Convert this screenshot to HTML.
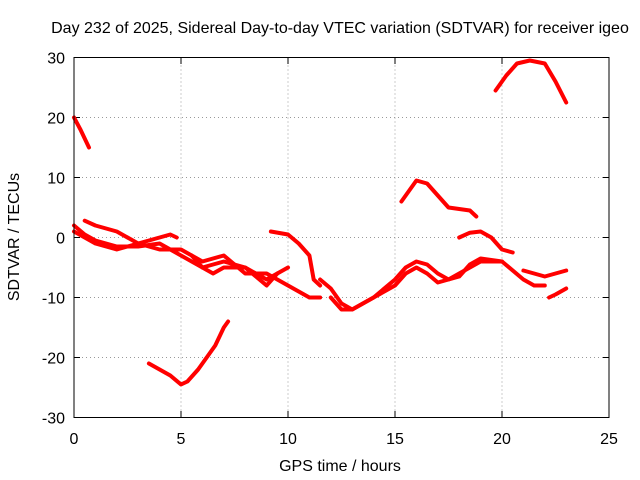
<!DOCTYPE html>
<html><head><meta charset="utf-8"><style>
body{margin:0;background:#fff}
svg{display:block;font-family:"Liberation Sans",sans-serif}
</style></head><body>
<svg id="c" width="640" height="480">
<text x="340" y="33" text-anchor="middle" font-size="16">Day 232 of 2025, Sidereal Day-to-day VTEC variation (SDTVAR) for receiver igeo</text>
<text x="340" y="471" text-anchor="middle" font-size="16">GPS time / hours</text>
<text transform="translate(19,237) rotate(-90)" text-anchor="middle" font-size="16">SDTVAR / TECUs</text>
<g id="grid"></g><g id="ticks"></g><g id="series"></g>
<rect x="74" y="57.5" width="535" height="360" fill="none" stroke="#000"/>
</svg>
<script>
const xTicks=[0,5,10,15,20,25];
const yTicks=[-30,-20,-10,0,10,20,30];
const seg1=[[0,20],[0.3,18],[0.7,15]];
const seg2=[[0,2],[0.5,0.5],[1,-0.5],[2,-1.5],[3,-1.5],[4,-1],[5,-3],[6,-5],[7,-4],[8,-5],[9,-7],[10,-5]];
const seg3=[[0.5,2.8],[1,2],[2,1],[3,-1],[4,0],[4.5,0.5],[4.8,0]];
const seg4=[[0,1],[1,-1],[2,-2],[3,-1],[4,-2],[5,-2],[6,-4],[7,-3],[8,-6],[9,-6],[10,-8],[11,-10],[11.5,-10]];
const seg5=[[5.5,-3],[6,-5],[6.5,-6],[7,-5],[8,-5],[9,-8],[9.5,-6]];
const seg6=[[9.2,1],[10,0.5],[10.5,-1],[11,-3],[11.2,-7],[11.5,-8]];
const seg7=[[11.5,-7],[12,-8.5],[12.5,-11],[13,-12],[13.5,-11],[14,-10],[15,-7],[15.5,-5],[16,-4],[16.5,-4.5],[17,-6],[17.5,-7],[18,-6],[19,-4],[20,-4],[21,-7],[21.5,-8],[22,-8]];
const seg8=[[12,-10],[12.5,-12],[13,-12],[14,-10],[15,-8],[15.5,-6],[16,-5],[16.5,-6],[17,-7.5],[18,-6.5],[18.5,-4.5],[19,-3.5],[20,-4]];
const seg9=[[3.5,-21],[4,-22],[4.5,-23],[5,-24.5],[5.3,-24],[5.8,-22],[6.2,-20],[6.6,-18],[7,-15],[7.2,-14]];
const seg10=[[15.3,6],[16,9.5],[16.5,9],[17,7],[17.5,5],[18.5,4.5],[18.8,3.5]];
const seg11=[[18,0],[18.5,0.8],[19,1],[19.5,0],[20,-2],[20.5,-2.5]];
const seg12=[[19.7,24.5],[20.2,27],[20.7,29],[21.3,29.5],[22,29],[22.5,26],[23,22.5]];
const seg13=[[21,-5.5],[21.5,-6],[22,-6.5],[22.5,-6],[23,-5.5]];
const seg14=[[22.2,-10],[22.5,-9.5],[23,-8.5]];
const allSeries=[seg1,seg2,seg3,seg4,seg5,seg6,seg7,seg8,seg9,seg10,seg11,seg12,seg13,seg14];
const X=v=>74+v*535/25, Y=v=>237.5-v*6;
const NS="http://www.w3.org/2000/svg";
const g=document.getElementById('grid'),t=document.getElementById('ticks'),s=document.getElementById('series');
function mk(tag,a,p){const e=document.createElementNS(NS,tag);for(const k in a)e.setAttribute(k,a[k]);p.appendChild(e);return e;}
xTicks.forEach(v=>{
 if(v>0&&v<25){const l=mk('line',{x1:X(v),x2:X(v),y1:57.5,y2:417.5,stroke:'#999','stroke-dasharray':'1,3'},g);
 
 }
 const tx=mk('text',{x:X(v),y:444,'text-anchor':'middle','font-size':16},t);tx.textContent=v;
 
 
 mk('line',{x1:X(v),x2:X(v),y1:417.5,y2:411,stroke:'#000'},t);mk('line',{x1:X(v),x2:X(v),y1:57.5,y2:64,stroke:'#000'},t);
});
yTicks.forEach(v=>{
 if(v>-30&&v<30){const l=mk('line',{x1:74,x2:609,y1:Y(v),y2:Y(v),stroke:'#999','stroke-dasharray':'1,3'},g);
 
 }
 const tx=mk('text',{x:65,y:Y(v)+6,'text-anchor':'end','font-size':16},t);tx.textContent=v;
 
 
 mk('line',{x1:74,x2:80,y1:Y(v),y2:Y(v),stroke:'#000'},t);mk('line',{x1:609,x2:603,y1:Y(v),y2:Y(v),stroke:'#000'},t);
});
allSeries.forEach(seg=>{
 const p=mk('polyline',{points:seg.map(d=>X(d[0])+','+Y(d[1])).join(' '),fill:'none',stroke:'#f00','stroke-width':4,'stroke-linejoin':'round','stroke-linecap':'round'},s);
 
 
});
</script>
</body></html>
